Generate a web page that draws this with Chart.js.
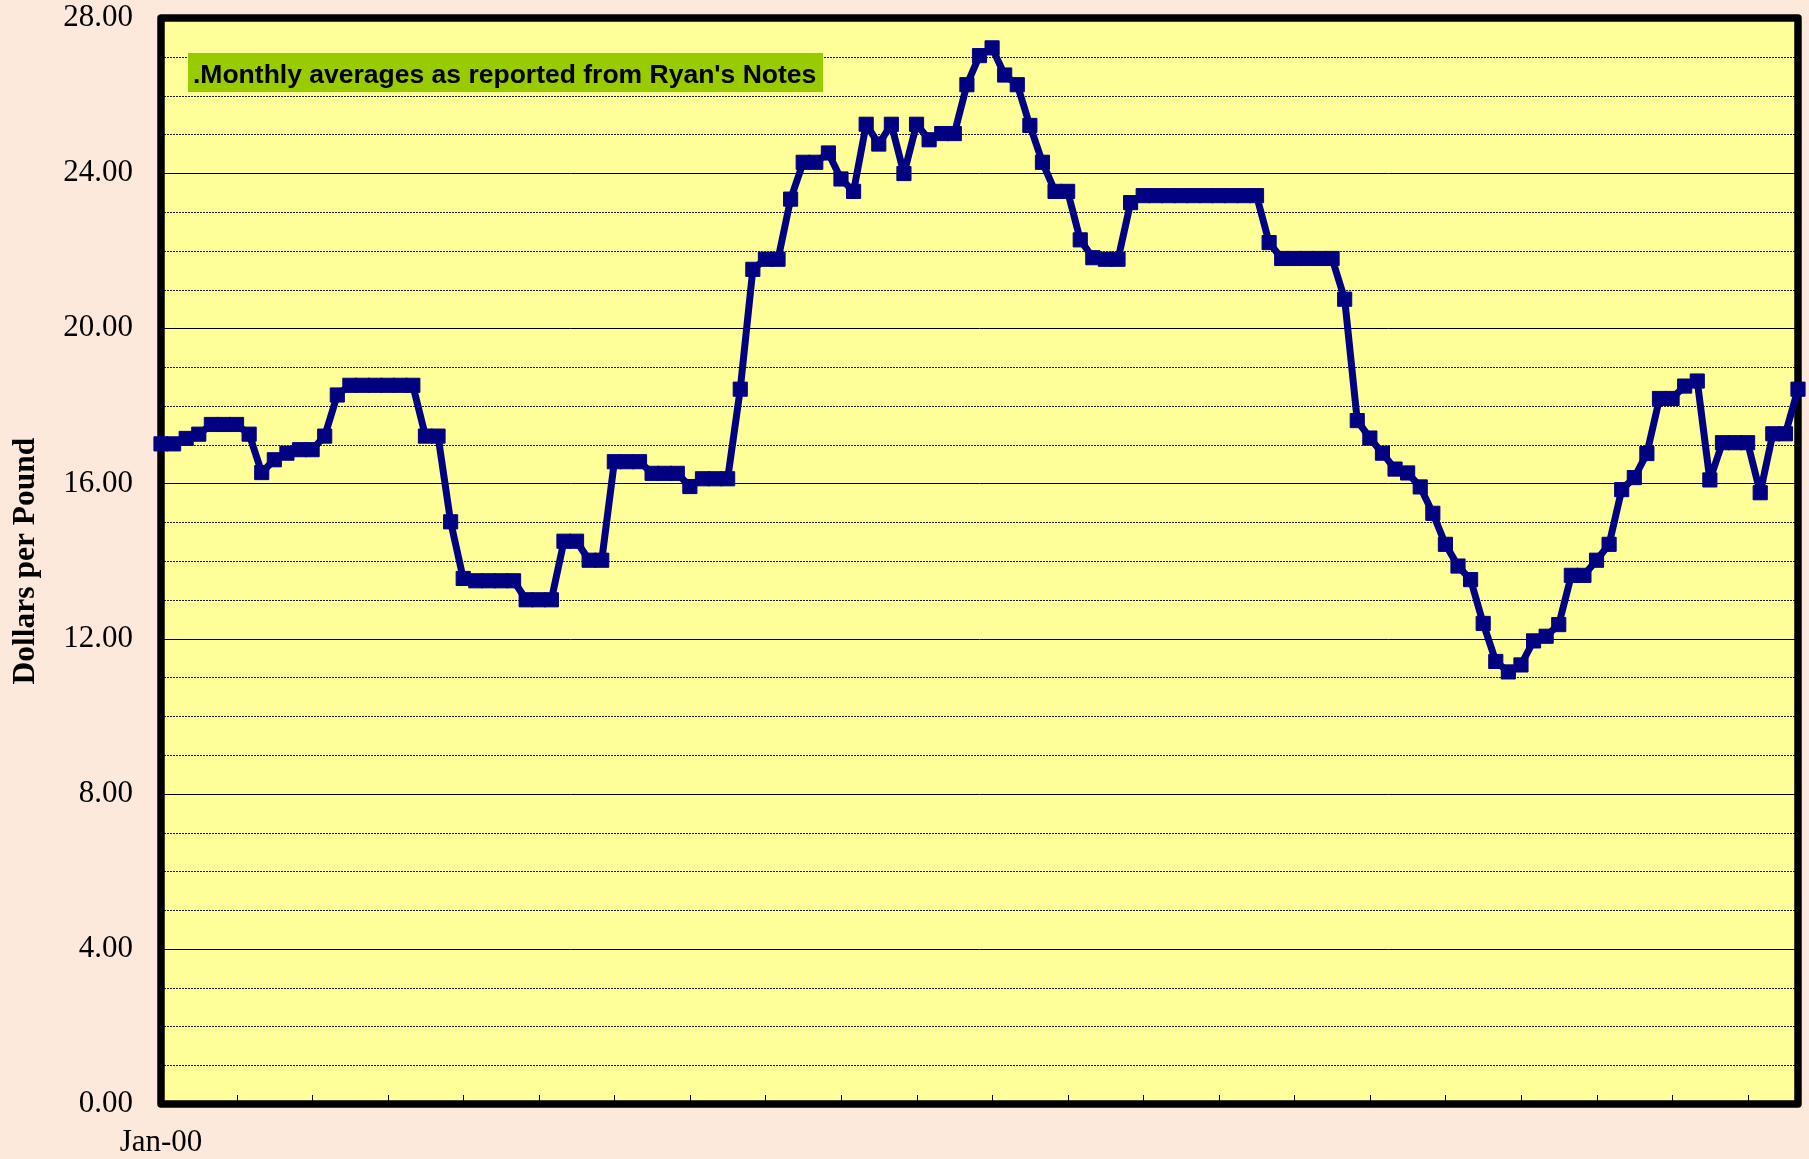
<!DOCTYPE html>
<html>
<head>
<meta charset="utf-8">
<script src="https://cdn.jsdelivr.net/npm/chart.js@4.4.1/dist/chart.umd.min.js"></script>
<style>
html,body{margin:0;padding:0;background:#FDE9DB;}
canvas{display:block;}
</style>
</head>
<body>
<canvas id="c" width="1809" height="1159"></canvas>
<script>
// ---------- DATA ----------
const categories = [
 'Jan-00','Feb-00','Mar-00','Apr-00','May-00','Jun-00','Jul-00','Aug-00','Sep-00','Oct-00','Nov-00','Dec-00',
 'Jan-01','Feb-01','Mar-01','Apr-01','May-01','Jun-01','Jul-01','Aug-01','Sep-01','Oct-01','Nov-01','Dec-01',
 'Jan-02','Feb-02','Mar-02','Apr-02','May-02','Jun-02','Jul-02','Aug-02','Sep-02','Oct-02','Nov-02','Dec-02',
 'Jan-03','Feb-03','Mar-03','Apr-03','May-03','Jun-03','Jul-03','Aug-03','Sep-03','Oct-03','Nov-03','Dec-03',
 'Jan-04','Feb-04','Mar-04','Apr-04','May-04','Jun-04','Jul-04','Aug-04','Sep-04','Oct-04','Nov-04','Dec-04',
 'Jan-05','Feb-05','Mar-05','Apr-05','May-05','Jun-05','Jul-05','Aug-05','Sep-05','Oct-05','Nov-05','Dec-05',
 'Jan-06','Feb-06','Mar-06','Apr-06','May-06','Jun-06','Jul-06','Aug-06','Sep-06','Oct-06','Nov-06','Dec-06',
 'Jan-07','Feb-07','Mar-07','Apr-07','May-07','Jun-07','Jul-07','Aug-07','Sep-07','Oct-07','Nov-07','Dec-07',
 'Jan-08','Feb-08','Mar-08','Apr-08','May-08','Jun-08','Jul-08','Aug-08','Sep-08','Oct-08','Nov-08','Dec-08',
 'Jan-09','Feb-09','Mar-09','Apr-09','May-09','Jun-09','Jul-09','Aug-09','Sep-09','Oct-09','Nov-09','Dec-09',
 'Jan-10','Feb-10','Mar-10','Apr-10','May-10','Jun-10','Jul-10','Aug-10','Sep-10','Oct-10','Nov-10'
];

const prices = [
 17.02,17.02,17.16,17.27,17.52,17.52,17.52,17.27,16.28,16.61,16.78,16.87,
 16.87,17.22,18.28,18.53,18.53,18.53,18.53,18.53,18.53,17.22,17.22,15.01,
 13.55,13.49,13.49,13.49,13.49,13.00,13.00,13.00,14.51,14.51,14.02,14.02,
 16.56,16.56,16.56,16.26,16.26,16.26,15.92,16.12,16.12,16.12,18.43,21.52,
 21.78,21.78,23.33,24.28,24.28,24.52,23.85,23.53,25.26,24.75,25.26,23.99,
 25.26,24.86,25.02,25.02,26.28,27.03,27.23,26.53,26.28,25.23,24.28,23.53,
 23.53,22.28,21.82,21.78,21.78,23.24,23.42,23.42,23.42,23.42,23.42,23.42,
 23.42,23.42,23.42,23.42,22.21,21.80,21.80,21.80,21.80,21.80,20.75,17.62,
 17.17,16.78,16.37,16.27,15.91,15.23,14.43,13.87,13.52,12.39,11.41,11.14,
 11.32,11.94,12.06,12.36,13.63,13.63,14.02,14.43,15.84,16.15,16.77,18.19,
 18.19,18.51,18.64,16.09,17.05,17.05,17.05,15.76,17.28,17.28,18.43
];

const yTickValues = [0, 4, 8, 12, 16, 20, 24, 28];
const xTickLabels = ['Jan-00'];
const annotationText = ".Monthly averages as reported from Ryan's Notes";
const yAxisTitle = 'Dollars per Pound';

// ---------- STYLE ----------
const PAGE_BG = '#FDE9DB';
const PLOT_BG = '#FFFF99';
const LINE_COLOR = '#000080';
const SERIF = '"Liberation Serif", "Times New Roman", serif';
const SANS = '"Liberation Sans", Arial, sans-serif';

const decor = {
  id: 'decor',
  beforeDraw(chart) {
    const ctx = chart.ctx;
    ctx.save();
    ctx.fillStyle = PAGE_BG;
    ctx.fillRect(0, 0, chart.width, chart.height);
    ctx.restore();
  },
  beforeDatasetsDraw(chart) {
    const {ctx, chartArea: a, scales: {x, y}} = chart;
    ctx.save();
    // plot background
    ctx.fillStyle = PLOT_BG;
    ctx.fillRect(a.left, a.top, a.right - a.left, a.bottom - a.top);

    // horizontal grid lines (every 1 unit dashed, every 4 solid)
    for (let v = y.min + 1; v < y.max; v++) {
      const py = Math.round(y.getPixelForValue(v)) + 0.5;
      ctx.beginPath();
      ctx.lineWidth = 1;
      if (v % 4 === 0) {
        ctx.setLineDash([]);
        ctx.strokeStyle = '#000000';
      } else {
        ctx.setLineDash([2, 1]);
        ctx.strokeStyle = '#1a1a1a';
      }
      ctx.moveTo(a.left, py);
      ctx.lineTo(a.right, py);
      ctx.stroke();
    }
    ctx.setLineDash([]);

    // x tick marks every 6 months, pointing inward from bottom
    ctx.strokeStyle = '#000000';
    ctx.lineWidth = 1;
    for (let i = 0; i < categories.length; i += 6) {
      const px = Math.round(x.getPixelForValue(i)) + 0.5;
      ctx.beginPath();
      ctx.moveTo(px, a.bottom - 3);
      ctx.lineTo(px, a.bottom - 9);
      ctx.stroke();
    }

    // frame
    ctx.lineWidth = 7.5;
    ctx.lineJoin = 'round';
    ctx.strokeStyle = '#000000';
    ctx.strokeRect(a.left, a.top, a.right - a.left, a.bottom - a.top);

    // annotation box
    const bx = 188, by = 53, bw = 635, bh = 39;
    ctx.fillStyle = '#99CC00';
    ctx.fillRect(bx, by, bw, bh);
    ctx.fillStyle = '#000000';
    ctx.font = 'bold 26.5px ' + SANS;
    ctx.textBaseline = 'alphabetic';
    ctx.textAlign = 'left';
    ctx.fillText(annotationText, 193, 82.5);
    ctx.restore();
  }
};

new Chart(document.getElementById('c'), {
  type: 'line',
  data: {
    labels: categories,
    datasets: [{
      data: prices,
      borderColor: LINE_COLOR,
      backgroundColor: LINE_COLOR,
      borderWidth: 7,
      borderJoinStyle: 'round',
      tension: 0,
      pointStyle: 'rect',
      pointRadius: 10,
      pointBorderWidth: 1,
      pointBackgroundColor: LINE_COLOR,
      pointBorderColor: LINE_COLOR,
      clip: false
    }]
  },
  options: {
    responsive: false,
    animation: false,
    devicePixelRatio: 1,
    layout: { padding: { left: 0, right: 8, top: 18, bottom: 0 } },
    plugins: { legend: { display: false }, tooltip: { enabled: false } },
    scales: {
      x: {
        type: 'category',
        offset: false,
        grid: { display: false, drawTicks: false },
        border: { display: false },
        ticks: {
          autoSkip: false,
          maxRotation: 0,
          minRotation: 0,
          padding: 20,
          color: '#000000',
          font: { family: SERIF, size: 31 },
          callback: (v, i) => xTickLabels.includes(categories[i]) ? categories[i] : ''
        },
        afterFit(s) { s.height = 55; s.paddingLeft = 0; s.paddingRight = 0; }
      },
      y: {
        min: 0,
        max: 28,
        afterBuildTicks(s) { s.ticks = yTickValues.map(v => ({ value: v })); },
        grid: { display: false, drawTicks: false },
        border: { display: false },
        ticks: {
          padding: 28,
          color: '#000000',
          font: { family: SERIF, size: 31 },
          callback: v => Number(v).toFixed(2)
        },
        title: {
          display: true,
          text: yAxisTitle,
          color: '#000000',
          font: { family: SERIF, size: 31.5, weight: 'bold' },
          padding: { top: 7, bottom: 0 }
        },
        afterFit(s) { s.width = 161; s.paddingTop = 0; s.paddingBottom = 0; }
      }
    }
  },
  plugins: [decor]
});
</script>
</body>
</html>
